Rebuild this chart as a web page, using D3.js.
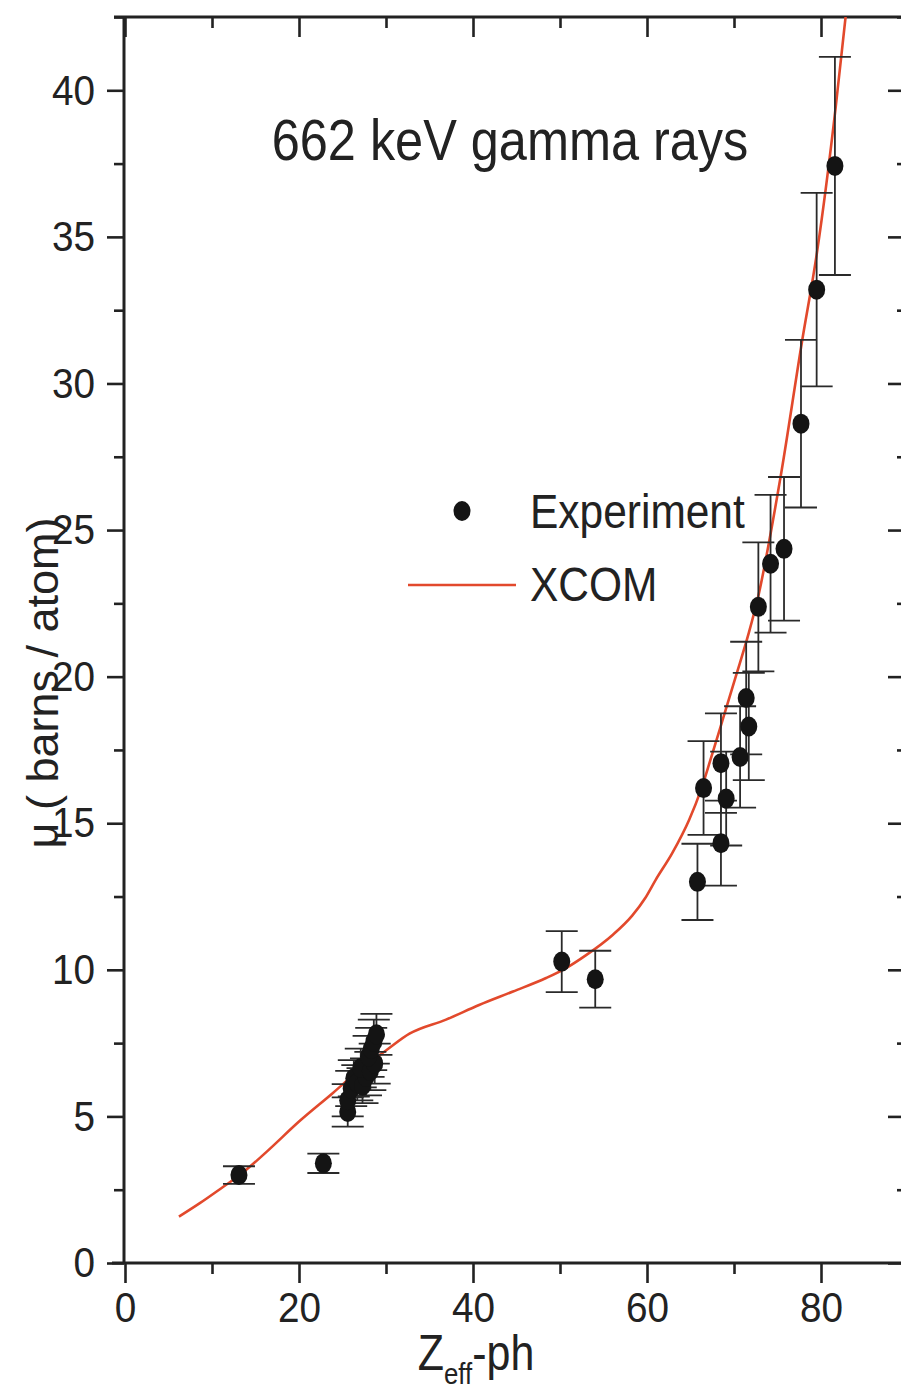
<!DOCTYPE html>
<html>
<head>
<meta charset="utf-8">
<script src="https://cdn.jsdelivr.net/npm/d3@7"></script>
<style>
  html, body { margin: 0; padding: 0; background: #fff; }
  svg { display: block; }
  text { font-family: "Liberation Sans", Arial, sans-serif; fill: #222; }
</style>
</head>
<body>
<svg id="chart" width="901" height="1389"></svg>
<script>
// Measured attenuation coefficients (barns/atom) vs photo-effective atomic number
const zeff = [13.1, 22.8,
  25.6, 25.6, 26.0, 26.3, 26.7, 27.3, 27.7, 27.1, 28.2, 28.7, 28.0, 28.3, 28.6, 28.9,
  50.2, 54.05,
  65.8, 66.5, 68.5, 68.5, 69.1, 70.7, 71.4, 71.7, 72.8, 74.2, 75.75, 77.7, 79.5, 81.6];
const mu = [3.0, 3.4,
  5.15, 5.55, 5.95, 6.3, 6.15, 6.05, 6.35, 6.65, 6.55, 6.8, 7.05, 7.3, 7.55, 7.8,
  10.28, 9.68,
  13.0, 16.2, 14.32, 17.05, 15.84, 17.26, 19.27, 18.3, 22.38, 23.85, 24.36, 28.63, 33.2, 37.42];
const muErr = [0.3, 0.33,
  0.5, 0.55, 0.6, 0.62, 0.6, 0.6, 0.63, 0.66, 0.65, 0.68, 0.7, 0.72, 0.75, 0.7,
  1.04, 0.97,
  1.3, 1.6, 1.45, 1.7, 1.6, 1.73, 1.92, 1.83, 2.2, 2.35, 2.45, 2.86, 3.3, 3.72];

// XCOM theoretical curve
const xcomZ = [6.2, 8.6, 11.3, 13.2, 16.3, 20.1, 23.9, 27.0, 30.0, 32.7, 36.9, 40.7, 44.6,
  48.4, 50.7, 53.0, 56.05, 58.3, 59.8, 61.0, 62.9, 64.85, 66.2, 67.3, 68.7, 70.2, 71.7, 72.7,
  75.3, 77.8, 79.54, 81.7, 82.9];
const xcomMu = [1.58, 2.04, 2.6, 3.0, 3.8, 4.85, 5.8, 6.6, 7.25, 7.82, 8.3, 8.8, 9.26,
  9.72, 10.06, 10.5, 11.19, 11.85, 12.45, 13.07, 13.98, 15.12, 16.14, 17.17, 18.53, 20.0, 21.49, 22.63,
  26.72, 31.4, 34.47, 39.45, 42.7];

const xTicks = [0, 20, 40, 60, 80];
const xMinor = [10, 30, 50, 70];
const yTicks = [0, 5, 10, 15, 20, 25, 30, 35, 40];
const yMinor = [2.5, 7.5, 12.5, 17.5, 22.5, 27.5, 32.5, 37.5, 42.5];

const svg = d3.select("#chart");
const plotL = 124, plotR = 908, plotT = 17, plotB = 1263;
const x = d3.scaleLinear().domain([0, 90]).range([plotL + 1, plotR]);
const y = d3.scaleLinear().domain([0, 42.5]).range([plotB, plotT]);
const axisColor = "#222";
const tickSqueeze = 0.9;

function styleAxis(g) {
  g.select(".domain").remove();
  g.selectAll(".tick line").attr("stroke", axisColor).attr("stroke-width", 2.6);
}

// Major and minor ticks on all four sides
const bottomG = svg.append("g").attr("transform", `translate(0,${plotB})`);
bottomG.call(d3.axisBottom(x).tickValues(xTicks).tickSize(20).tickPadding(8).tickFormat(d3.format("d")))
  .call(styleAxis);
bottomG.append("g").call(d3.axisBottom(x).tickValues(xMinor).tickSize(11).tickFormat(""))
  .call(styleAxis);
bottomG.selectAll(".tick text")
  .attr("font-size", 43)
  .attr("transform", `scale(${tickSqueeze},1)`);

const topG = svg.append("g").attr("transform", `translate(0,${plotT})`);
topG.call(d3.axisBottom(x).tickValues(xTicks).tickSize(20).tickFormat("")).call(styleAxis);
topG.append("g").call(d3.axisBottom(x).tickValues(xMinor).tickSize(11).tickFormat("")).call(styleAxis);

const leftG = svg.append("g").attr("transform", `translate(${plotL},0)`);
leftG.call(d3.axisLeft(y).tickValues(yTicks).tickSize(17).tickPadding(9).tickFormat(d3.format("d")))
  .call(styleAxis);
leftG.append("g").call(d3.axisLeft(y).tickValues(yMinor).tickSize(10).tickFormat(""))
  .call(styleAxis);
leftG.selectAll(".tick text")
  .attr("font-size", 43)
  .attr("x", null)
  .attr("transform", `translate(-29,0) scale(${tickSqueeze},1)`);

const rightG = svg.append("g").attr("transform", `translate(${plotR},0)`);
rightG.call(d3.axisLeft(y).tickValues(yTicks).tickSize(20).tickFormat("")).call(styleAxis);
rightG.append("g").call(d3.axisLeft(y).tickValues(yMinor).tickSize(11).tickFormat("")).call(styleAxis);

// Frame lines
const frame = svg.append("g").attr("stroke", axisColor).attr("stroke-width", 3).attr("fill", "none");
frame.append("line").attr("x1", plotL - 10).attr("x2", plotR).attr("y1", plotT).attr("y2", plotT);
frame.append("line").attr("x1", plotL - 12).attr("x2", plotR).attr("y1", plotB).attr("y2", plotB);
frame.append("line").attr("x1", plotL).attr("x2", plotL).attr("y1", plotT).attr("y2", plotB);
frame.append("line").attr("x1", plotR).attr("x2", plotR).attr("y1", plotT).attr("y2", plotB);

// Clip for the curve
svg.append("clipPath").attr("id", "plot-clip")
  .append("rect").attr("x", plotL).attr("y", plotT).attr("width", plotR - plotL).attr("height", plotB - plotT);

// XCOM curve
const curveData = xcomZ.map((z, i) => [z, xcomMu[i]]);
svg.append("path")
  .datum(curveData)
  .attr("clip-path", "url(#plot-clip)")
  .attr("fill", "none")
  .attr("stroke", "#e2492c")
  .attr("stroke-width", 2.6)
  .attr("d", d3.line().x(d => x(d[0])).y(d => y(d[1])).curve(d3.curveMonotoneX));

// Experimental points with error bars
const pts = zeff.map((z, i) => ({ z, m: mu[i], e: muErr[i] }));
const capHalf = 16;
const eb = svg.append("g").attr("stroke", "#2a2a2a").attr("stroke-width", 1.8);
pts.forEach(p => {
  const cx = x(p.z);
  eb.append("line").attr("x1", cx).attr("x2", cx).attr("y1", y(p.m - p.e)).attr("y2", y(p.m + p.e));
  eb.append("line").attr("x1", cx - capHalf).attr("x2", cx + capHalf).attr("y1", y(p.m + p.e)).attr("y2", y(p.m + p.e));
  eb.append("line").attr("x1", cx - capHalf).attr("x2", cx + capHalf).attr("y1", y(p.m - p.e)).attr("y2", y(p.m - p.e));
});
svg.append("g").selectAll("ellipse").data(pts).join("ellipse")
  .attr("cx", d => x(d.z)).attr("cy", d => y(d.m))
  .attr("rx", 8.5).attr("ry", 10)
  .attr("fill", "#141414");

// Title
svg.append("text")
  .attr("transform", `translate(510,160) scale(0.885,1)`)
  .attr("text-anchor", "middle")
  .attr("font-size", 57)
  .text("662 keV gamma rays");

// Legend
svg.append("ellipse").attr("cx", 462).attr("cy", 511).attr("rx", 8.5).attr("ry", 10).attr("fill", "#141414");
svg.append("text")
  .attr("transform", `translate(530,528) scale(0.885,1)`)
  .attr("font-size", 48)
  .text("Experiment");
svg.append("line").attr("x1", 408).attr("x2", 516).attr("y1", 585).attr("y2", 585)
  .attr("stroke", "#e2492c").attr("stroke-width", 2.6);
svg.append("text")
  .attr("transform", `translate(530,601) scale(0.885,1)`)
  .attr("font-size", 48)
  .text("XCOM");

// Axis titles
svg.append("text")
  .attr("transform", `translate(58,683) rotate(-90)`)
  .attr("text-anchor", "middle")
  .attr("font-size", 45)
  .text("μ ( barns / atom)");

const xl = svg.append("text")
  .attr("transform", `translate(476,1370) scale(0.86,1)`)
  .attr("text-anchor", "middle")
  .attr("font-size", 50);
xl.append("tspan").text("Z");
xl.append("tspan").attr("font-size", 30).attr("dy", 14).text("eff");
xl.append("tspan").attr("dy", -14).text("-ph");
</script>
</body>
</html>
